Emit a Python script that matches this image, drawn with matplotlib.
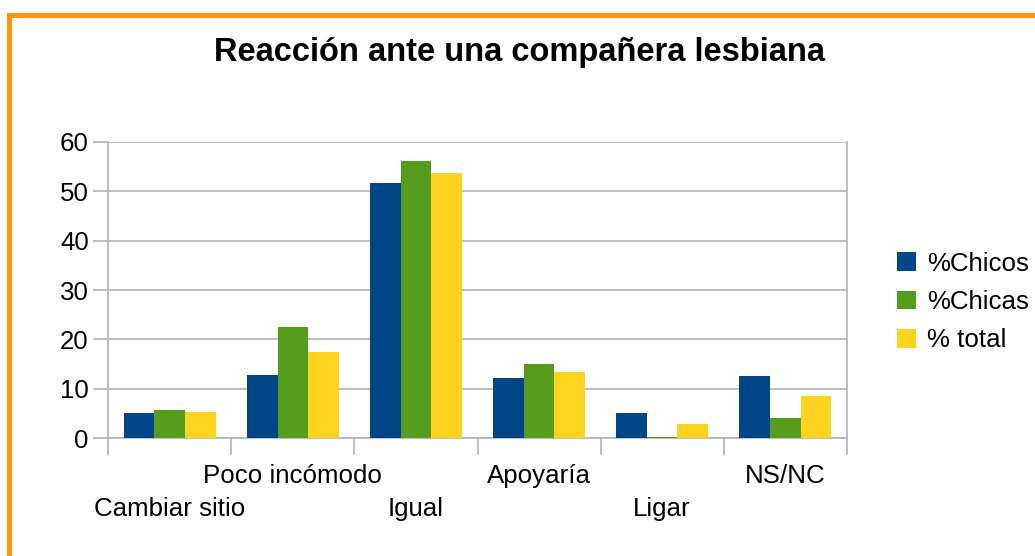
import matplotlib
matplotlib.use("Agg")
import matplotlib.pyplot as plt
import numpy as np
from matplotlib.patches import Rectangle
from matplotlib.transforms import blended_transform_factory, offset_copy

plt.rcParams['font.family'] = ['Liberation Sans', 'DejaVu Sans']

categories = ["Cambiar sitio", "Poco incómodo", "Igual", "Apoyaría", "Ligar", "NS/NC"]
chicos = [5.1, 12.8, 51.7, 12.2, 5.1, 12.6]
chicas = [5.7, 22.5, 56.1, 15.0, 0.3, 4.1]
total = [5.3, 17.5, 53.7, 13.4, 2.9, 8.6]
series_names = ["%Chicos", "%Chicas", "% total"]
colors = ["#004586", "#579D1C", "#FFD320"]
title = "Reacción ante una compañera lesbiana"

FS = 18.6

fig = plt.figure(figsize=(10.35, 5.56), dpi=100)
ax = fig.add_axes([108.3/1035, 1-438.3/556, (846.7-108.3)/1035, (438.3-141.7)/556])

x = np.arange(len(categories)) + 0.5
w = 0.25
for k, (vals, name, c) in enumerate(zip([chicos, chicas, total], series_names, colors)):
    ax.bar(x + (k-1)*w, vals, width=w, color=c, label=name, zorder=3)

ax.set_xlim(0, len(categories))
ax.set_ylim(0, 60)
ax.set_yticks(np.arange(0, 61, 10))
ax.yaxis.grid(True, color="#b3b3b3", linewidth=1.2, zorder=0)
ax.set_axisbelow(True)

gray = "#b3b3b3"
for s in ["left", "right", "bottom"]:
    ax.spines[s].set_color(gray)
    ax.spines[s].set_linewidth(1.2)
ax.spines["top"].set_visible(False)

ax.set_xticks(np.arange(0, len(categories)+1))
ax.set_xticklabels([])
ax.tick_params(axis="x", which="major", length=12, color=gray, width=1.2)
ax.tick_params(axis="y", length=11, color=gray, width=1.2, labelsize=FS, pad=3)

# staggered category labels
trans = blended_transform_factory(ax.transData, ax.transAxes)
for i, c in enumerate(categories):
    dy = -55.7 if i % 2 == 0 else -32.4
    t = offset_copy(trans, fig=fig, x=0, y=dy, units="points")
    ax.text(x[i], 0, c, transform=t, ha="center", va="baseline", fontsize=FS)

ax.legend(loc="center left", bbox_to_anchor=(897/1035, 1-302/556), bbox_transform=fig.transFigure,
          frameon=False, fontsize=FS, handlelength=0.75, handleheight=0.75, handletextpad=0.42,
          labelspacing=0.55, borderpad=0, borderaxespad=0)

fig.text(519/1035, 1-52/556, title, ha="center", va="center", fontsize=23.5, fontweight="bold")

fig.patches.append(Rectangle((8.5/1035, -0.1), 1.2, 1-14.5/556+0.1, transform=fig.transFigure,
                             fill=False, edgecolor="#FF950E", linewidth=3.6, zorder=10))

fig.savefig("out.png", dpi=100)
